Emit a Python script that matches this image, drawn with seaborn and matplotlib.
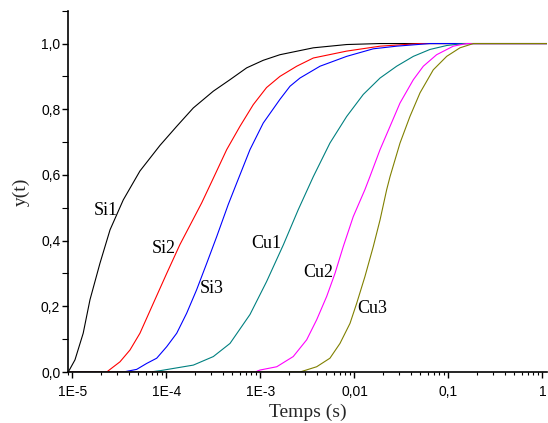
import numpy as np
import pandas as pd
import matplotlib
matplotlib.use("Agg")
import matplotlib.pyplot as plt
import matplotlib.ticker as mticker
import seaborn as sns

# values (time in s, y(t) between 0 and 1)
si1_t = [9e-6, 9.02e-6, 1.063e-5, 1.30e-5, 1.535e-5, 1.96e-5, 2.51e-5, 3.47e-5, 5.22e-5,
         8.53e-5, 1.285e-4, 1.93e-4, 3.15e-4, 4.74e-4, 7.13e-4, 1.07e-3, 1.61e-3,
         3.65e-3, 8.26e-3, 1.87e-2, 1.2]
si1_y = [0.0, 0.0, 0.037, 0.118, 0.22, 0.331, 0.433, 0.524, 0.612,
         0.69, 0.748, 0.804, 0.855, 0.89, 0.926, 0.949, 0.966,
         0.987, 0.997, 1.0, 1.0]

si2_t = [9e-6, 2.31e-5, 3.2e-5, 4.09e-5, 5.22e-5, 7.24e-5, 1.005e-4, 1.39e-4, 1.93e-4,
         2.37e-4, 3.15e-4, 4.37e-4, 6.05e-4, 8.38e-4, 1.16e-3, 1.61e-3, 2.43e-3,
         3.65e-3, 8.26e-3, 1.87e-2, 4.98e-2, 1.2]
si2_y = [0.0, 0.0, 0.031, 0.067, 0.118, 0.209, 0.30, 0.388, 0.466,
         0.515, 0.59, 0.677, 0.748, 0.814, 0.866, 0.90, 0.931,
         0.956, 0.977, 0.992, 1.0, 1.0]

si3_t = [9e-6, 3.47e-5, 4.82e-5, 6.15e-5, 7.87e-5, 1.005e-4, 1.285e-4, 1.64e-4, 2.09e-4,
         2.68e-4, 3.42e-4, 4.54e-4, 5.58e-4, 7.73e-4, 1.07e-3, 1.61e-3, 2.06e-3,
         2.63e-3, 4.3e-3, 8.26e-3, 1.585e-2, 2.81e-2, 6.35e-2, 1.2]
si3_y = [0.0, 0.0, 0.008, 0.026, 0.042, 0.077, 0.118, 0.179, 0.25,
         0.331, 0.412, 0.51, 0.575, 0.677, 0.758, 0.83, 0.87,
         0.895, 0.931, 0.961, 0.984, 0.992, 1.0, 1.0]

cu1_t = [9e-6, 6.68e-5, 8.53e-5, 1.93e-4, 3.15e-4, 4.74e-4, 7.73e-4, 1.16e-3, 1.75e-3,
         2.52e-3, 3.65e-3, 5.48e-3, 8.26e-3, 1.24e-2, 1.87e-2, 2.81e-2, 4.23e-2,
         6.35e-2, 9.57e-2, 1.44e-1, 1.2]
cu1_y = [0.0, 0.0, 0.004, 0.021, 0.047, 0.087, 0.175, 0.275, 0.387,
         0.494, 0.595, 0.697, 0.778, 0.845, 0.895, 0.931, 0.961,
         0.982, 0.994, 1.0, 1.0]

cu2_t = [9e-6, 8.74e-4, 9.89e-4, 1.49e-3, 2.23e-3, 3.1e-3, 3.96e-3, 5.06e-3, 6.2e-3,
         7.6e-3, 9.7e-3, 1.29e-2, 1.46e-2, 1.87e-2, 2.39e-2, 3.05e-2, 4.23e-2,
         5.4e-2, 7.48e-2, 1.125e-1, 1.56e-1, 1.2]
cu2_y = [0.0, 0.0, 0.006, 0.016, 0.047, 0.098, 0.159, 0.23, 0.30,
         0.382, 0.473, 0.555, 0.595, 0.677, 0.748, 0.819, 0.89,
         0.931, 0.966, 0.992, 1.0, 1.0]

cu3_t = [9e-6, 2.63e-3, 3.96e-3, 5.48e-3, 7.01e-3, 8.96e-3, 1.055e-2, 1.29e-2, 1.585e-2,
         1.87e-2, 2.2e-2, 2.39e-2, 3.05e-2, 3.89e-2, 4.98e-2, 6.89e-2, 9.57e-2,
         1.325e-1, 1.84e-1, 1.2]
cu3_y = [0.0, 0.0, 0.016, 0.042, 0.087, 0.148, 0.209, 0.29, 0.382,
         0.463, 0.555, 0.595, 0.697, 0.778, 0.85, 0.92, 0.961,
         0.987, 1.0, 1.0]

names = ["Si1", "Si2", "Si3", "Cu1", "Cu2", "Cu3"]
colors = ["#000000", "#FF0000", "#0000FF", "#008080", "#FF00FF", "#808000"]
xticks = [1e-5, 1e-4, 1e-3, 1e-2, 1e-1, 1]
xtick_labels = ["1E-5", "1E-4", "1E-3", "0,01", "0,1", "1"]
yticks = [0.0, 0.2, 0.4, 0.6, 0.8, 1.0]
ytick_labels = ["0,0", "0,2", "0,4", "0,6", "0,8", "1,0"]

# label anchor spots next to each curve
label_pos = {"Si1": (2.26e-5, 0.492), "Si2": (9.36e-5, 0.375), "Si3": (3.0e-4, 0.253),
             "Cu1": (1.14e-3, 0.39), "Cu2": (4.16e-3, 0.303), "Cu3": (1.545e-2, 0.192)}

series = [(si1_t, si1_y), (si2_t, si2_y), (si3_t, si3_y),
          (cu1_t, cu1_y), (cu2_t, cu2_y), (cu3_t, cu3_y)]
df = pd.concat([pd.DataFrame({"t": t, "y": y, "curve": n})
                for n, (t, y) in zip(names, series)], ignore_index=True)

sns.set_style("ticks")
plt.rcParams["font.family"] = ["Liberation Sans", "DejaVu Sans"]

fig = plt.figure(figsize=(5.48, 4.23), dpi=100)
ax = fig.add_axes([68 / 548, 1 - 372 / 423, (547 - 68) / 548, (372 - 10.7) / 423])

sns.lineplot(data=df, x="t", y="y", hue="curve", palette=dict(zip(names, colors)),
             estimator=None, sort=False, legend=False, linewidth=0.8, ax=ax)

ax.set_xscale("log")
ax.set_xlim(8.96e-6, 1.117)
ax.set_ylim(0, 1.1)
ax.set_xticks(xticks)
ax.set_xticklabels(xtick_labels)
ax.xaxis.set_minor_locator(mticker.LogLocator(base=10, subs=np.arange(2, 10)))
ax.xaxis.set_minor_formatter(mticker.NullFormatter())
ax.set_yticks(yticks)
ax.set_yticklabels(ytick_labels)
ax.yaxis.set_minor_locator(mticker.MultipleLocator(0.1))

ax.tick_params(axis="both", which="major", direction="out", length=4.5, width=1,
               labelsize=10, color="black", labelcolor="black")
ax.tick_params(axis="x", which="major", pad=5)
ax.tick_params(axis="y", which="major", pad=1)
ax.tick_params(axis="x", which="minor", direction="out", length=2.5, width=0.8, color="black")
ax.tick_params(axis="y", which="minor", direction="out", length=4, width=0.8, color="black")

for s in ["top", "right"]:
    ax.spines[s].set_visible(False)
for s in ["left", "bottom"]:
    ax.spines[s].set_color("black")
    ax.spines[s].set_linewidth(1.2)

ax.set_xlabel("Temps (s)", family=["Liberation Serif"], fontsize=14, labelpad=3)
ax.set_ylabel("y(t)", family=["Liberation Serif"], fontsize=14, labelpad=8)

for n in names:
    x, y = label_pos[n]
    ax.text(x, y, n, family=["Liberation Serif"], fontsize=13,
            ha="center", va="center", color="black")

fig.savefig("out.png", dpi=100)
